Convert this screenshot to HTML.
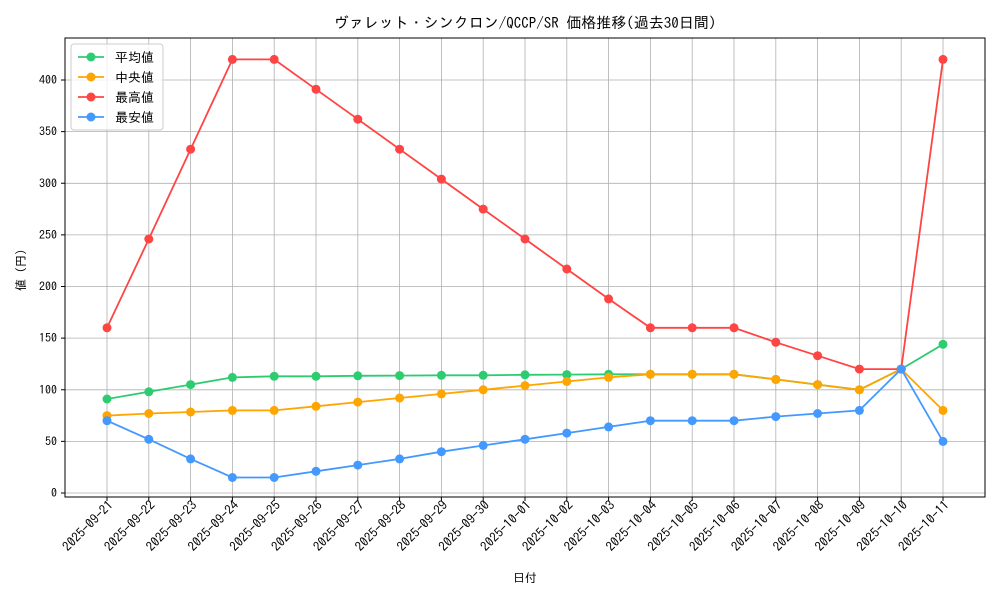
<!DOCTYPE html>
<html><head><meta charset="utf-8"><style>body{margin:0;background:#fff}svg{display:block}text{font-family:"IPAGothic","Noto Sans CJK JP",monospace;fill:#000}</style></head><body>
<svg width="1000" height="600" xmlns="http://www.w3.org/2000/svg">
<defs>
<marker id="mg" markerUnits="userSpaceOnUse" markerWidth="10" markerHeight="10" refX="5" refY="5"><circle cx="5" cy="5" r="4.5" fill="#2ecc71"/></marker>
<marker id="mo" markerUnits="userSpaceOnUse" markerWidth="10" markerHeight="10" refX="5" refY="5"><circle cx="5" cy="5" r="4.5" fill="#ffa500"/></marker>
<marker id="mr" markerUnits="userSpaceOnUse" markerWidth="10" markerHeight="10" refX="5" refY="5"><circle cx="5" cy="5" r="4.5" fill="#ff4444"/></marker>
<marker id="mb" markerUnits="userSpaceOnUse" markerWidth="10" markerHeight="10" refX="5" refY="5"><circle cx="5" cy="5" r="4.5" fill="#4499ff"/></marker>
</defs>
<g stroke="#b0b0b0" stroke-width="0.8">
<path d="M107 38V497M148.8 38V497M190.6 38V497M232.4 38V497M274.2 38V497M316 38V497M357.8 38V497M399.6 38V497M441.4 38V497M483.2 38V497M525 38V497M566.8 38V497M608.6 38V497M650.4 38V497M692.2 38V497M734 38V497M775.8 38V497M817.6 38V497M859.4 38V497M901.2 38V497M943 38V497"/>
<path d="M65 493H985M65 441.4H985M65 389.8H985M65 338.1H985M65 286.5H985M65 234.9H985M65 183.3H985M65 131.6H985M65 80H985"/>
</g>
<g stroke="#000" stroke-width="1">
<path d="M107 497v4M148.8 497v4M190.6 497v4M232.4 497v4M274.2 497v4M316 497v4M357.8 497v4M399.6 497v4M441.4 497v4M483.2 497v4M525 497v4M566.8 497v4M608.6 497v4M650.4 497v4M692.2 497v4M734 497v4M775.8 497v4M817.6 497v4M859.4 497v4M901.2 497v4M943 497v4"/>
<path d="M61 493h4M61 441.4h4M61 389.8h4M61 338.1h4M61 286.5h4M61 234.9h4M61 183.3h4M61 131.6h4M61 80h4"/>
</g>
<g font-size="12" text-anchor="end">
<text x="57" y="497">0</text><text x="57" y="445.4">50</text><text x="57" y="393.8">100</text><text x="57" y="342.1">150</text><text x="57" y="290.5">200</text><text x="57" y="238.9">250</text><text x="57" y="187.3">300</text><text x="57" y="135.6">350</text><text x="57" y="84">400</text>
</g>
<g font-size="13" text-anchor="end">
<text transform="translate(114,506) rotate(-45)">2025-09-21</text>
<text transform="translate(155.8,506) rotate(-45)">2025-09-22</text>
<text transform="translate(197.6,506) rotate(-45)">2025-09-23</text>
<text transform="translate(239.4,506) rotate(-45)">2025-09-24</text>
<text transform="translate(281.2,506) rotate(-45)">2025-09-25</text>
<text transform="translate(323,506) rotate(-45)">2025-09-26</text>
<text transform="translate(364.8,506) rotate(-45)">2025-09-27</text>
<text transform="translate(406.6,506) rotate(-45)">2025-09-28</text>
<text transform="translate(448.4,506) rotate(-45)">2025-09-29</text>
<text transform="translate(490.2,506) rotate(-45)">2025-09-30</text>
<text transform="translate(532,506) rotate(-45)">2025-10-01</text>
<text transform="translate(573.8,506) rotate(-45)">2025-10-02</text>
<text transform="translate(615.6,506) rotate(-45)">2025-10-03</text>
<text transform="translate(657.4,506) rotate(-45)">2025-10-04</text>
<text transform="translate(699.2,506) rotate(-45)">2025-10-05</text>
<text transform="translate(741,506) rotate(-45)">2025-10-06</text>
<text transform="translate(782.8,506) rotate(-45)">2025-10-07</text>
<text transform="translate(824.6,506) rotate(-45)">2025-10-08</text>
<text transform="translate(866.4,506) rotate(-45)">2025-10-09</text>
<text transform="translate(908.2,506) rotate(-45)">2025-10-10</text>
<text transform="translate(950,506) rotate(-45)">2025-10-11</text>
</g>
<g fill="none" stroke-width="1.8">
<polyline stroke="#2ecc71" marker-start="url(#mg)" marker-mid="url(#mg)" marker-end="url(#mg)" points="107,399 148.8,391.8 190.6,384.6 232.4,377.4 274.2,376.3 316,376.3 357.8,375.8 399.6,375.6 441.4,375.3 483.2,375.3 525,374.8 566.8,374.6 608.6,374.3 650.4,374.3 692.2,374.3 734,374.3 775.8,379.4 817.6,384.6 859.4,389.8 901.2,369.1 943,344.3"/>
<polyline stroke="#ffa500" marker-start="url(#mo)" marker-mid="url(#mo)" marker-end="url(#mo)" points="107,415.6 148.8,413.5 190.6,412 232.4,410.4 274.2,410.4 316,406.3 357.8,402.1 399.6,398 441.4,393.9 483.2,389.8 525,385.6 566.8,381.5 608.6,377.4 650.4,374.3 692.2,374.3 734,374.3 775.8,379.4 817.6,384.6 859.4,389.8 901.2,369.1 943,410.4"/>
<polyline stroke="#ff4444" marker-start="url(#mr)" marker-mid="url(#mr)" marker-end="url(#mr)" points="107,327.8 148.8,239 190.6,149.2 232.4,59.4 274.2,59.4 316,89.3 357.8,119.2 399.6,149.2 441.4,179.1 483.2,209.1 525,239 566.8,269 608.6,298.9 650.4,327.8 692.2,327.8 734,327.8 775.8,342.3 817.6,355.7 859.4,369.1 901.2,369.1 943,59.4"/>
<polyline stroke="#4499ff" marker-start="url(#mb)" marker-mid="url(#mb)" marker-end="url(#mb)" points="107,420.7 148.8,439.3 190.6,458.9 232.4,477.5 274.2,477.5 316,471.3 357.8,465.1 399.6,458.9 441.4,451.7 483.2,445.5 525,439.3 566.8,433.1 608.6,426.9 650.4,420.7 692.2,420.7 734,420.7 775.8,416.6 817.6,413.5 859.4,410.4 901.2,369.1 943,441.4"/>
</g>
<rect x="65" y="38" width="920" height="459" fill="none" stroke="#000" stroke-width="1"/>
<rect x="71" y="44" width="92" height="86" rx="3" fill="#fff" fill-opacity="0.8" stroke="#ccc"/>
<g stroke-width="1.8">
<line x1="78" y1="57" x2="104" y2="57" stroke="#2ecc71"/><circle cx="91" cy="57" r="4.5" fill="#2ecc71"/>
<line x1="78" y1="77" x2="104" y2="77" stroke="#ffa500"/><circle cx="91" cy="77" r="4.5" fill="#ffa500"/>
<line x1="78" y1="97" x2="104" y2="97" stroke="#ff4444"/><circle cx="91" cy="97" r="4.5" fill="#ff4444"/>
<line x1="78" y1="117" x2="104" y2="117" stroke="#4499ff"/><circle cx="91" cy="117" r="4.5" fill="#4499ff"/>
</g>
<g font-size="13">
<text x="115" y="62">平均値</text><text x="115" y="82">中央値</text><text x="115" y="102">最高値</text><text x="115" y="122">最安値</text>
</g>
<text x="525" y="28" text-anchor="middle" font-size="15">ヴァレット・シンクロン/QCCP/SR 価格推移(過去30日間)</text>
<text x="525" y="582" text-anchor="middle" font-size="12">日付</text>
<text transform="translate(25,270) rotate(-90)" text-anchor="middle" font-size="12">値 (円)</text>
</svg></body></html>
